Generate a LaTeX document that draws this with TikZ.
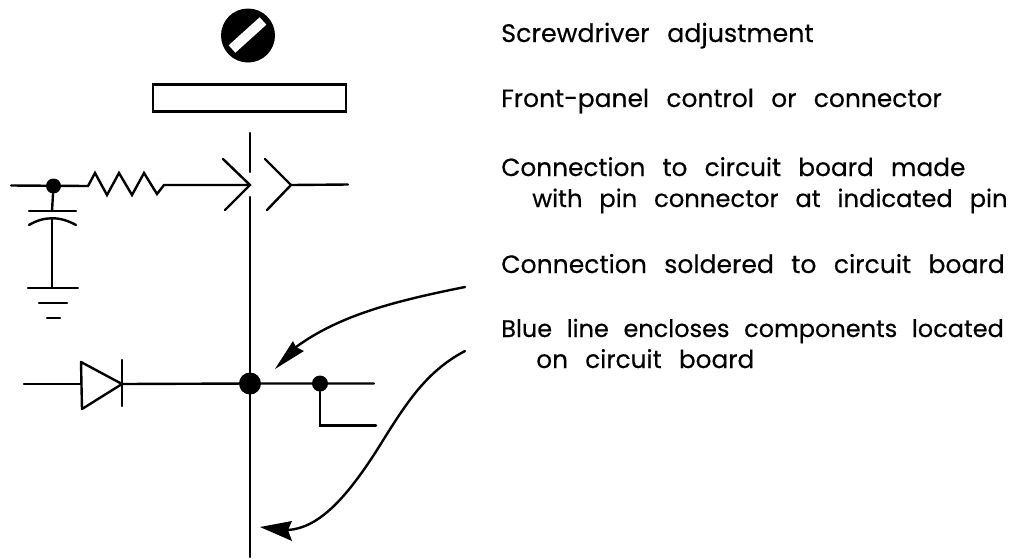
\documentclass[tikz,border=0pt]{standalone}
\usepackage{fontspec}
\setmainfont[WordSpace=2.6,FakeBold=0.35]{Poppins}
\tikzset{
  wire/.style={black,line width=1.8pt,line cap=round,line join=miter},
  legend/.style={anchor=base west,inner sep=0pt,font=\fontsize{#1pt}{22pt}\selectfont},
  legend/.default=18.6,
  blob/.style={circle,fill=black,inner sep=0pt,minimum size=#1},
}
\begin{document}
\begin{tikzpicture}[x=0.75pt,y=-0.75pt]
\useasboundingbox (0,0) rectangle (1017,558);
% screwdriver slot
\node [blob=54*0.75pt] (screw) at (248,35.5) {};
\coordinate (slotA) at (232,49);
\coordinate (slotB) at (263,21);
\draw [white,line width=7.5pt] (slotA) -- (slotB);
% front panel
\node [draw=black,line width=1.8pt,minimum width=145pt,minimum height=20pt,inner sep=0pt] (panel) at (249.5,98) {};
% board edge
\coordinate (edgeTop) at (250,133);
\coordinate (edgeGapA) at (250,172);
\coordinate (edgeGapB) at (250,197);
\coordinate (edgeEnd) at (250,557);
\draw [wire] (edgeTop) -- (edgeGapA);
\draw [wire] (edgeGapB) -- (edgeEnd);
% input, resistor and pin connector
\node [blob=15*0.75pt] (inDot) at (53.5,186) {};
\coordinate (inStart) at (11,185.5);
\coordinate (resA) at (88,186);
\coordinate (resB) at (164,185);
\coordinate (pinA) at (250,185);
\coordinate (pinB) at (291,185);
\coordinate (outEnd) at (348,184.5);
\draw [wire] (inStart) -- (resA) -- (95,173) -- (107,195) -- (119,173) -- (132,195) -- (144,173) -- (157,194) -- (resB) -- (pinA);
\draw [wire] (223,159) -- (pinA) -- (225,210);
\draw [wire] (265,159) -- (pinB) -- (267,210);
\draw [wire] (pinB) -- (outEnd);
% capacitor and ground
\coordinate (capA) at (52,211);
\coordinate (capB) at (52,218);
\coordinate (gnd) at (52,288);
\draw [wire] (inDot) -- (capA);
\draw [wire] (29,211) -- (76,211);
\draw [wire] (29,225) .. controls (44,216) and (60,216) .. (76,225);
\draw [wire] (capB) -- (gnd);
\draw [wire] (28,288) -- (78,288);
\draw [wire] (39,303) -- (67,303);
\draw [wire] (47,318) -- (60,318);
% diode and joints
\node [blob=22*0.75pt] (joint) at (250,383.5) {};
\node [blob=16*0.75pt] (tap) at (320,383.5) {};
\coordinate (diodeIn) at (24,384);
\coordinate (diodeA) at (81,384);
\coordinate (diodeK) at (122,384);
\coordinate (thruEnd) at (374,383.5);
\coordinate (tapCorner) at (320,425.5);
\coordinate (tapEnd) at (376,425.5);
\draw [wire] (diodeIn) -- (diodeA);
\draw [wire,line join=round] (81,362) -- (diodeK) -- (82,409) -- cycle;
\draw [wire] (122,360) -- (122,406);
\draw [wire] (diodeK) -- (joint) -- (thruEnd);
\draw [wire] (tap) -- (tapCorner) -- (tapEnd);
% pointers
\coordinate (arrowA) at (465,287);
\coordinate (arrowAtip) at (275,369);
\coordinate (arrowAneck) at (296,347);
\coordinate (arrowB) at (465,351);
\coordinate (arrowBtip) at (260,527);
\coordinate (arrowBneck) at (288,530);
\draw [wire] (arrowA) .. controls (395,301) and (340,315) .. (arrowAneck);
\fill [black] (arrowAtip) -- (293,341) -- (arrowAneck) -- (304,351) -- cycle;
\draw [wire] (arrowB) .. controls (425,372) and (405,405) .. (377,450) .. controls (345,500) and (318,528) .. (arrowBneck);
\fill [black] (arrowBtip) -- (292,521) -- (arrowBneck) -- (292,541) -- cycle;
% legend
\node [legend=19] (txtA) at (501,42) {Screwdriver adjustment};
\node [legend=18.7] (txtB) at (501,107) {Front-panel control or connector};
\node [legend] (txtC) at (501,176) {Connection to circuit board made};
\node [legend=18.2] (txtD) at (532,207) {with pin connector at indicated pin};
\node [legend=18.8] (txtE) at (501,273) {Connection soldered to circuit board};
\node [legend=18] (txtF) at (501,337) {\spaceskip=11pt Blue line encloses components located};
\node [legend] (txtG) at (536,368) {on circuit board};
\end{tikzpicture}
\end{document}
